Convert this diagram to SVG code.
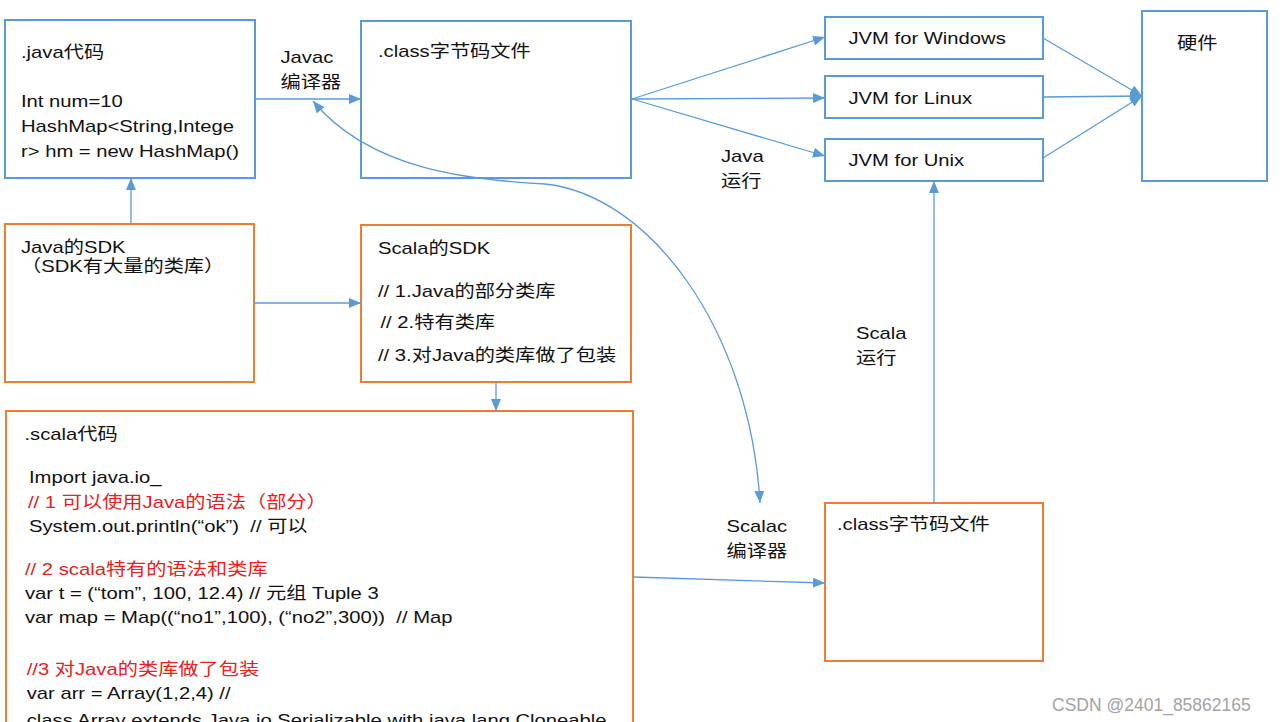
<svg xmlns="http://www.w3.org/2000/svg" width="1280" height="722" viewBox="0 0 1280 722">
<defs>
<style>
.bb{fill:#fff;stroke:#5b9bd5;stroke-width:2}
.ob{fill:#fff;stroke:#ed7d31;stroke-width:2}
.c{fill:none;stroke:#5b9bd5;stroke-width:1.3}
text{font-family:"Liberation Sans","Noto Sans CJK SC",sans-serif;font-size:17px;fill:#111;white-space:pre}
.r{fill:#e3231c}
.wm{fill:#a3a3a3;font-size:17.5px}
</style>
<marker id="ah" viewBox="0 0 12 10" refX="12" refY="5" markerWidth="12" markerHeight="10" markerUnits="userSpaceOnUse" orient="auto-start-reverse">
<path d="M0,0 L12,5 L0,10 Z" fill="#5b9bd5"/>
</marker>
</defs>
<rect width="1280" height="722" fill="#fff"/>

<g id="labels">
<text transform="translate(280.5 62.5) scale(1.19 1)">Javac</text>
<text transform="translate(280.5 88) scale(1.19 1)">编译器</text>
<text transform="translate(721 162) scale(1.19 1)">Java</text>
<text transform="translate(721 187) scale(1.19 1)">运行</text>
<text transform="translate(856 339) scale(1.19 1)">Scala</text>
<text transform="translate(856 364) scale(1.19 1)">运行</text>
<text transform="translate(726.5 532) scale(1.19 1)">Scalac</text>
<text transform="translate(726.5 557) scale(1.19 1)">编译器</text>
</g>

<g id="java-code">
<rect class="bb" x="5" y="20" width="250" height="158"/>
<text transform="translate(21 58) scale(1.19 1)">.java代码</text>
<text transform="translate(21 106.5) scale(1.19 1)">Int num=10</text>
<text transform="translate(21 131.5) scale(1.19 1)">HashMap&lt;String,Intege</text>
<text transform="translate(21 156.5) scale(1.19 1)">r&gt; hm = new HashMap()</text>
</g>

<g id="java-class">
<rect class="bb" x="361" y="21" width="270" height="157"/>
<text transform="translate(378 57) scale(1.19 1)">.class字节码文件</text>
</g>

<g id="jvm-windows">
<rect class="bb" x="825" y="17" width="218" height="42"/>
<text transform="translate(848.5 44.3) scale(1.19 1)">JVM for Windows</text>
</g>
<g id="jvm-linux">
<rect class="bb" x="825" y="76" width="218" height="42"/>
<text transform="translate(848.5 103.5) scale(1.19 1)">JVM for Linux</text>
</g>
<g id="jvm-unix">
<rect class="bb" x="825" y="139" width="218" height="42"/>
<text transform="translate(848.5 165.7) scale(1.19 1)">JVM for Unix</text>
</g>

<g id="hardware">
<rect class="bb" x="1142" y="11" width="125" height="170"/>
<text transform="translate(1177 48.5) scale(1.19 1)">硬件</text>
</g>

<g id="java-sdk">
<rect class="ob" x="5" y="224" width="249" height="158"/>
<text transform="translate(21 253) scale(1.19 1)">Java的SDK</text>
<text transform="translate(21 271.5) scale(1.19 1)">（SDK有大量的类库）</text>
</g>

<g id="scala-sdk">
<rect class="ob" x="361" y="225" width="270" height="157"/>
<text transform="translate(378 254) scale(1.19 1)">Scala的SDK</text>
<text transform="translate(378 297) scale(1.19 1)">// 1.Java的部分类库</text>
<text transform="translate(380.5 328.3) scale(1.19 1)">// 2.特有类库</text>
<text transform="translate(378 360.5) scale(1.19 1)">// 3.对Java的类库做了包装</text>
</g>

<g id="scala-code">
<rect class="ob" x="6" y="411" width="627" height="340"/>
<text transform="translate(24.5 440) scale(1.19 1)">.scala代码</text>
<text transform="translate(29 483.3) scale(1.19 1)">Import java.io_</text>
<text class="r" transform="translate(28 507.7) scale(1.19 1)">// 1 可以使用Java的语法（部分）</text>
<text transform="translate(29 531.7) scale(1.19 1)">System.out.println(“ok”)  // 可以</text>
<text class="r" transform="translate(25 575) scale(1.19 1)">// 2 scala特有的语法和类库</text>
<text transform="translate(25 599.3) scale(1.19 1)">var t = (“tom”, 100, 12.4) // 元组 Tuple 3</text>
<text transform="translate(25 623.3) scale(1.19 1)">var map = Map((“no1”,100), (“no2”,300))  // Map</text>
<text class="r" transform="translate(26.7 675) scale(1.19 1)">//3 对Java的类库做了包装</text>
<text transform="translate(26.7 699.3) scale(1.19 1)">var arr = Array(1,2,4) //</text>
<text transform="translate(26.7 726) scale(1.19 1)">class Array extends Java.io.Serializable with java.lang.Cloneable</text>
</g>

<g id="scala-class">
<rect class="ob" x="825" y="503" width="218" height="158"/>
<text transform="translate(837 530) scale(1.19 1)">.class字节码文件</text>
</g>

<g id="connectors">
<line class="c" x1="255" y1="99" x2="361" y2="99" marker-end="url(#ah)"/>
<line class="c" x1="131" y1="224" x2="131" y2="178" marker-end="url(#ah)"/>
<line class="c" x1="254" y1="303" x2="361" y2="303" marker-end="url(#ah)"/>
<line class="c" x1="496" y1="382" x2="496" y2="411" marker-end="url(#ah)"/>
<line class="c" x1="632" y1="99" x2="825" y2="37" marker-end="url(#ah)"/>
<line class="c" x1="632" y1="99" x2="825" y2="98" marker-end="url(#ah)"/>
<line class="c" x1="632" y1="99" x2="825" y2="156" marker-end="url(#ah)"/>
<line class="c" x1="1043" y1="38" x2="1142" y2="96" marker-end="url(#ah)"/>
<line class="c" x1="1043" y1="97" x2="1142" y2="96" marker-end="url(#ah)"/>
<line class="c" x1="1043" y1="158" x2="1142" y2="96" marker-end="url(#ah)"/>
<line class="c" x1="934" y1="503" x2="934" y2="181" marker-end="url(#ah)"/>
<line class="c" x1="633" y1="577" x2="825" y2="583" marker-end="url(#ah)"/>
<path class="c" d="M313,101 C370,170 470,180 545,184 C650,195 750,330 760,503" marker-start="url(#ah)" marker-end="url(#ah)"/>
</g>

<g id="watermark">
<text class="wm" x="1052" y="711">CSDN @2401_85862165</text>
</g>
</svg>
